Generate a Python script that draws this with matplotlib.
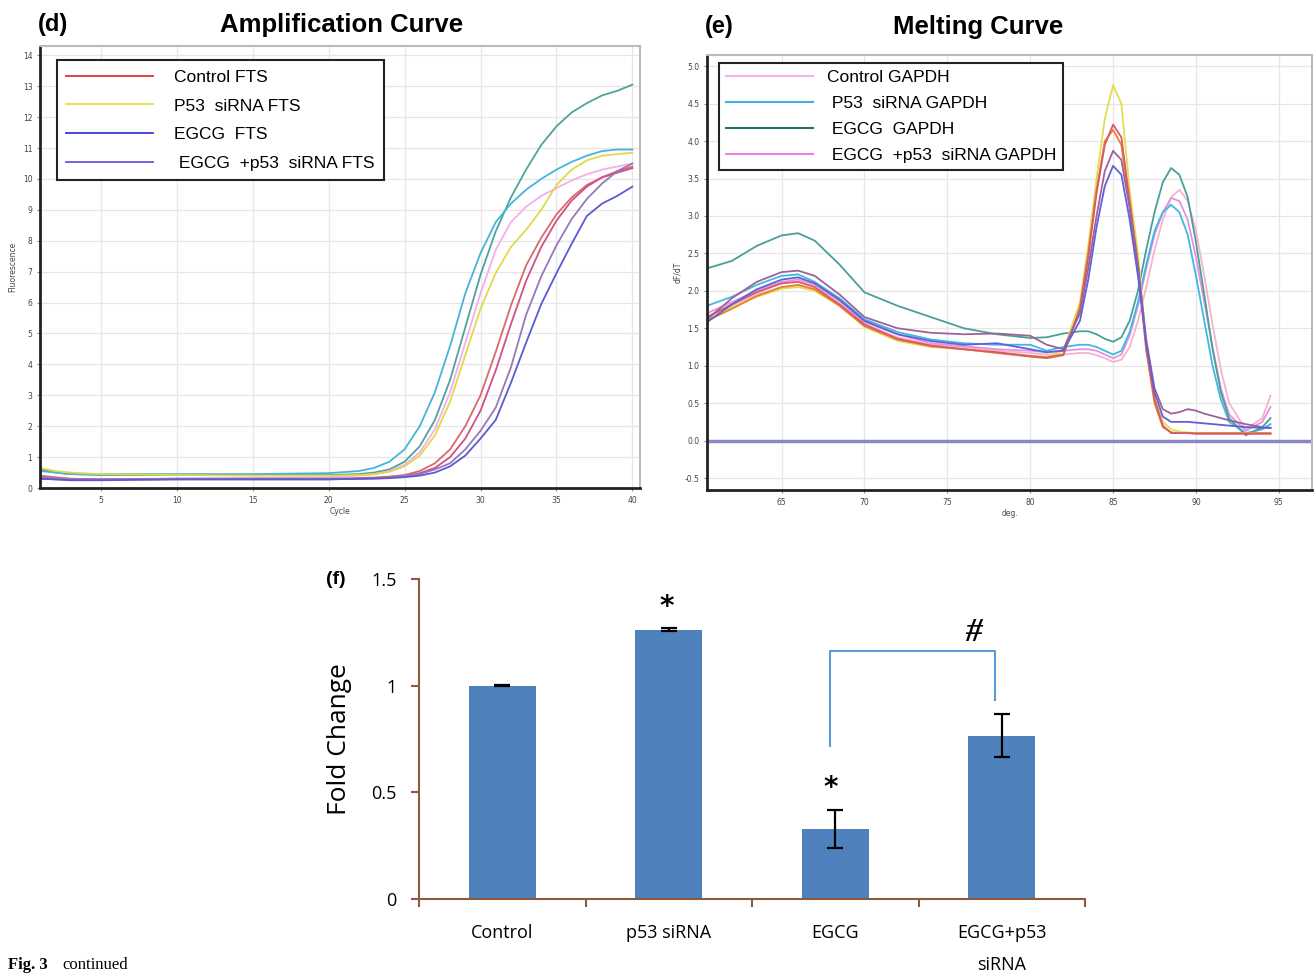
import matplotlib
matplotlib.use("Agg")
import matplotlib.pyplot as plt
from matplotlib.lines import Line2D

W, H = 1314, 974

# ---- (d) amplification curve data ----
cycles = [1, 2, 3, 5, 10, 15, 20, 22, 23, 24, 25, 26, 27, 28, 29, 30,
          31, 32, 33, 34, 35, 36, 37, 38, 39, 40]
amp_cyan = [0.55, 0.5, 0.45, 0.45, 0.45, 0.45, 0.48, 0.55, 0.65, 0.85, 1.25, 2.0, 3.1,
            4.6, 6.3, 7.6, 8.6, 9.2, 9.65, 10.0, 10.3, 10.55, 10.75, 10.9, 10.95, 10.95]
amp_teal = [0.6, 0.5, 0.45, 0.42, 0.42, 0.42, 0.42, 0.45, 0.5, 0.6, 0.85, 1.35, 2.2,
            3.5, 5.2, 6.9, 8.3, 9.4, 10.3, 11.1, 11.7, 12.15, 12.45, 12.7, 12.85, 13.05]
amp_pink = [0.35, 0.32, 0.3, 0.28, 0.3, 0.32, 0.35, 0.4, 0.45, 0.55, 0.75, 1.15, 1.9,
            3.1, 4.7, 6.3, 7.7, 8.6, 9.1, 9.45, 9.7, 9.95, 10.15, 10.3, 10.4, 10.5]
amp_yellow = [0.65, 0.55, 0.5, 0.45, 0.42, 0.4, 0.4, 0.42, 0.45, 0.52, 0.7, 1.05, 1.7,
              2.8, 4.3, 5.8, 6.95, 7.8, 8.35, 9.0, 9.8, 10.3, 10.6, 10.75, 10.8, 10.85]
amp_red = [0.4, 0.35, 0.3, 0.28, 0.3, 0.3, 0.3, 0.32, 0.34, 0.37, 0.42, 0.55, 0.8,
           1.25, 2.0, 3.0, 4.4, 5.9, 7.2, 8.1, 8.85, 9.4, 9.8, 10.05, 10.25, 10.4]
amp_magenta = [0.3, 0.28, 0.27, 0.27, 0.28, 0.28, 0.28, 0.3, 0.32, 0.34, 0.38, 0.48, 0.65,
               1.0, 1.6, 2.5, 3.8, 5.3, 6.7, 7.8, 8.65, 9.3, 9.75, 10.05, 10.2, 10.35]
amp_mauve = [0.35, 0.3, 0.28, 0.28, 0.3, 0.3, 0.3, 0.3, 0.32, 0.34, 0.38, 0.45, 0.6,
             0.8, 1.25, 1.85, 2.6, 3.9, 5.6, 6.85, 7.85, 8.7, 9.35, 9.85, 10.25, 10.5]
amp_blue = [0.3, 0.28, 0.25, 0.25, 0.28, 0.28, 0.28, 0.3, 0.3, 0.32, 0.35, 0.4, 0.5,
            0.7, 1.05, 1.6, 2.2, 3.4, 4.7, 5.95, 6.95, 7.9, 8.8, 9.2, 9.45, 9.75]
amp_labels = ["Control FTS", "P53  siRNA FTS", "EGCG  FTS", " EGCG  +p53  siRNA FTS"]
amp_legend_colors = ["#e03030", "#e0e040", "#3838e0", "#7050e0"]

# ---- (e) melting curve data ----
temps = [60.5, 62, 63.5, 65, 66, 67, 68.5, 70, 72, 74, 76, 78, 80, 81, 82, 83, 83.5,
         84, 84.5, 85, 85.5, 86, 86.5, 87, 87.5, 88, 88.5, 89, 89.5, 90, 90.5, 91,
         91.5, 92, 93, 94, 94.5]
melt_yellow = [1.62, 1.78, 1.92, 2.03, 2.05, 2.0, 1.8, 1.52, 1.33, 1.25, 1.22, 1.18, 1.13,
               1.12, 1.2, 1.85, 2.6, 3.5, 4.3, 4.75, 4.5, 3.35, 2.5, 1.25, 0.6, 0.25,
               0.15, 0.12, 0.11, 0.1, 0.1, 0.1, 0.1, 0.1, 0.1, 0.1, 0.1]
melt_red = [1.65, 1.82, 1.98, 2.1, 2.12, 2.05, 1.82, 1.55, 1.36, 1.27, 1.22, 1.18, 1.13,
            1.11, 1.15, 1.75, 2.45, 3.3, 3.95, 4.22, 4.05, 3.2, 2.35, 1.25, 0.55, 0.2,
            0.1, 0.1, 0.1, 0.09, 0.09, 0.09, 0.09, 0.09, 0.09, 0.09, 0.09]
melt_orange = [1.6, 1.76, 1.93, 2.05, 2.08, 2.02, 1.8, 1.53, 1.35, 1.26, 1.22, 1.17, 1.12,
               1.1, 1.14, 1.78, 2.5, 3.35, 4.0, 4.15, 3.95, 3.15, 2.3, 1.2, 0.5, 0.18,
               0.11, 0.1, 0.1, 0.1, 0.1, 0.1, 0.1, 0.1, 0.1, 0.1, 0.1]
melt_mauve = [1.62, 1.9, 2.12, 2.25, 2.27, 2.2, 1.95, 1.65, 1.5, 1.44, 1.42, 1.43, 1.4,
              1.28, 1.22, 1.7, 2.3, 3.0, 3.6, 3.87, 3.75, 3.1, 2.35, 1.35, 0.7, 0.42,
              0.36, 0.38, 0.42, 0.4, 0.36, 0.33, 0.3, 0.27, 0.22, 0.18, 0.17]
melt_blue = [1.58, 1.82, 2.02, 2.15, 2.18, 2.1, 1.88, 1.6, 1.42, 1.33, 1.28, 1.3, 1.22,
             1.18, 1.2, 1.6, 2.15, 2.85, 3.4, 3.67, 3.55, 2.95, 2.2, 1.3, 0.65, 0.32,
             0.25, 0.25, 0.25, 0.24, 0.23, 0.22, 0.21, 0.2, 0.18, 0.17, 0.17]
melt_teal = [2.3, 2.4, 2.6, 2.74, 2.77, 2.67, 2.35, 1.98, 1.8, 1.65, 1.5, 1.42, 1.37,
             1.38, 1.43, 1.46, 1.46, 1.42, 1.36, 1.32, 1.38, 1.6, 2.0, 2.55, 3.05, 3.45,
             3.64, 3.55, 3.25, 2.65, 1.95, 1.22, 0.65, 0.3, 0.07, 0.18, 0.3]
melt_cyan = [1.8, 1.92, 2.08, 2.2, 2.22, 2.12, 1.9, 1.62, 1.45, 1.35, 1.3, 1.28, 1.28,
             1.2, 1.25, 1.28, 1.28, 1.25, 1.2, 1.15, 1.2, 1.45, 1.85, 2.35, 2.8, 3.05,
             3.15, 3.05, 2.75, 2.2, 1.6, 1.0, 0.55, 0.25, 0.1, 0.15, 0.22]
melt_ltpink = [1.65, 1.8, 1.95, 2.05, 2.07, 2.02, 1.82, 1.55, 1.38, 1.28, 1.25, 1.2, 1.17,
               1.15, 1.15, 1.17, 1.17, 1.14, 1.1, 1.05, 1.08, 1.25, 1.6, 2.05, 2.55, 2.95,
               3.25, 3.35, 3.2, 2.8, 2.2, 1.55, 0.95, 0.5, 0.15, 0.3, 0.6]
melt_pink = [1.7, 1.85, 2.0, 2.12, 2.15, 2.08, 1.86, 1.58, 1.42, 1.3, 1.26, 1.22, 1.2,
             1.18, 1.2, 1.22, 1.22, 1.2, 1.15, 1.1, 1.15, 1.4, 1.8, 2.3, 2.75, 3.05,
             3.24, 3.2, 2.95, 2.45, 1.85, 1.25, 0.7, 0.35, 0.13, 0.25, 0.45]
melt_labels = ["Control GAPDH", " P53  siRNA GAPDH", " EGCG  GAPDH", " EGCG  +p53  siRNA GAPDH"]
melt_legend_colors = ["#f4b0f0", "#40b0e0", "#207070", "#f080e0"]

# ---- (f) fold change ----
groups = ["Control", "p53 siRNA", "EGCG", "EGCG+p53\nsiRNA"]
fold = [1.0, 1.263, 0.329, 0.765]
fold_err = [0.002, 0.007, 0.089, 0.1]

fig = plt.figure(figsize=(W / 100, H / 100), dpi=100)


def style_instrument(ax):
    ax.grid(True, color="#e6e6e6", lw=0.9)
    ax.set_axisbelow(True)
    for s in ["left", "bottom"]:
        ax.spines[s].set_color("#222222")
        ax.spines[s].set_linewidth(2)
    for s in ["top", "right"]:
        ax.spines[s].set_color("#bbbbbb")
        ax.spines[s].set_linewidth(1.5)
    ax.tick_params(labelsize=5.5, labelcolor="#444444", length=2, color="#888888")


# panel d
axd = fig.add_axes([40 / W, 1 - 488 / H, 600 / W, 442 / H])
style_instrument(axd)
amp_series = [(amp_teal, "#4ea39c"), (amp_cyan, "#45b4dc"), (amp_pink, "#f2aef0"),
              (amp_yellow, "#e2d84a"), (amp_red, "#d96a6a"), (amp_magenta, "#d0508a"),
              (amp_mauve, "#9878b8"), (amp_blue, "#5a5ad2")]
for vals, col in amp_series:
    axd.plot(cycles, vals, color=col, lw=1.3)
axd.set_xlim(1, 40.5)
axd.set_ylim(0, 14.3)
axd.set_xticks(range(5, 41, 5))
axd.set_yticks(range(0, 15))
axd.set_xlabel("Cycle", fontsize=5.5, color="#444444", labelpad=2)
axd.set_ylabel("Fluorescence", fontsize=5.5, color="#444444", labelpad=4)
hd = [Line2D([], [], color=c, lw=1.3) for c in amp_legend_colors]
legd = axd.legend(hd, amp_labels, loc="upper left", bbox_to_anchor=(0.028, 0.968),
                  borderaxespad=0, fancybox=False, edgecolor="#222222", framealpha=1,
                  prop={"family": "Liberation Sans", "size": 12.5}, handlelength=5.0,
                  handletextpad=1.2, labelspacing=0.78, borderpad=0.55)
legd.get_frame().set_linewidth(1.5)

# panel e
axe = fig.add_axes([707 / W, 1 - 490 / H, 605 / W, 435 / H])
style_instrument(axe)
melt_series = [(melt_ltpink, "#f4b4cc"), (melt_pink, "#e890e0"), (melt_cyan, "#40b8e0"),
               (melt_teal, "#4a9f98"), (melt_yellow, "#e2de50"), (melt_orange, "#e88030"),
               (melt_red, "#d85a6a"), (melt_mauve, "#a0609a"), (melt_blue, "#6060d8")]
for vals, col in melt_series:
    axe.plot(temps, vals, color=col, lw=1.3)
axe.axhline(0, color="#8888c8", lw=2.5)
axe.set_xlim(60.5, 97)
axe.set_ylim(-0.66, 5.15)
axe.set_xticks(range(65, 96, 5))
axe.set_yticks([-0.5, 0, 0.5, 1, 1.5, 2, 2.5, 3, 3.5, 4, 4.5, 5])
axe.set_yticklabels(["-0.5", "0.0", "0.5", "1.0", "1.5", "2.0", "2.5", "3.0", "3.5",
                     "4.0", "4.5", "5.0"])
axe.set_xlabel("deg.", fontsize=5.5, color="#444444", labelpad=2)
axe.set_ylabel("dF/dT", fontsize=5.5, color="#444444", labelpad=2)
he = [Line2D([], [], color=c, lw=1.5) for c in melt_legend_colors]
lege = axe.legend(he, melt_labels, loc="upper left", bbox_to_anchor=(0.02, 0.982),
                  borderaxespad=0, fancybox=False, edgecolor="#222222", framealpha=1,
                  prop={"family": "Liberation Sans", "size": 12.5}, handlelength=5.0,
                  handletextpad=0.8, labelspacing=0.62, borderpad=0.4)
lege.get_frame().set_linewidth(1.5)

# titles
title_font = {"family": "Liberation Sans", "weight": "bold"}
fig.text(38 / W, 1 - 25 / H, "(d)", fontsize=17, va="center", ha="left", **title_font)
fig.text(342 / W, 1 - 25 / H, "Amplification Curve", fontsize=18.5, va="center",
         ha="center", **title_font)
fig.text(705 / W, 1 - 27 / H, "(e)", fontsize=17, va="center", ha="left", **title_font)
fig.text(978 / W, 1 - 27 / H, "Melting Curve", fontsize=18.5, va="center", ha="center",
         **title_font)

# panel f
brown = "#8c5a3c"
axf = fig.add_axes([419 / W, 1 - 899 / H, 666 / W, 320 / H])
x = list(range(len(groups)))
axf.bar(x, fold, width=0.4, color="#4f81bd", linewidth=0)
axf.errorbar(x, fold, yerr=fold_err, fmt="none", ecolor="black", elinewidth=1.6,
             capsize=6, capthick=1.6)
axf.set_xlim(-0.5, 3.5)
axf.set_ylim(0, 1.5)
axf.set_yticks([0, 0.5, 1, 1.5])
axf.set_yticklabels(["0", "0.5", "1", "1.5"])
axf.set_xticks(x)
axf.set_xticklabels(groups, linespacing=2.0)
axf.set_xticks([-0.5, 0.5, 1.5, 2.5, 3.5], minor=True)
axf.tick_params(axis="x", which="major", length=0, pad=18, labelsize=13)
axf.tick_params(axis="x", which="minor", length=6, direction="out", color=brown, width=1.5)
axf.tick_params(axis="y", length=6, direction="out", color=brown, width=1.5,
                labelsize=13, pad=10)
for s in ["top", "right"]:
    axf.spines[s].set_visible(False)
for s in ["left", "bottom"]:
    axf.spines[s].set_color(brown)
    axf.spines[s].set_linewidth(1.5)
for lab in axf.get_xticklabels() + axf.get_yticklabels():
    lab.set_family("Open Sans")
axf.set_ylabel("Fold Change", fontsize=19, family="Open Sans")
axf.yaxis.set_label_coords(-0.1, 0.5)

# significance marks
axf.text(0.99, 1.37, "*", ha="center", va="center", fontsize=20, weight="bold")
axf.text(1.97, 0.52, "*", ha="center", va="center", fontsize=20, weight="bold")
axf.plot([1.97, 1.97, 2.96, 2.96], [0.718, 1.164, 1.164, 0.934], color="#5b9bd5", lw=1.5)
axf.text(2.83, 1.25, "#", ha="center", va="center", fontsize=24, weight="bold",
         style="italic", family="Liberation Serif")

fig.text(336 / W, 1 - 580 / H, "(f)", fontsize=14, weight="bold", ha="center",
         va="center", family="Liberation Sans")

fig.text(8 / W, 1 - 957 / H, "Fig. 3", fontsize=12, weight="bold", ha="left", va="top",
         family="Liberation Serif")
fig.text(62 / W, 1 - 957 / H, "continued", fontsize=12, ha="left", va="top",
         family="Liberation Serif")

fig.savefig("out.png", dpi=100)
